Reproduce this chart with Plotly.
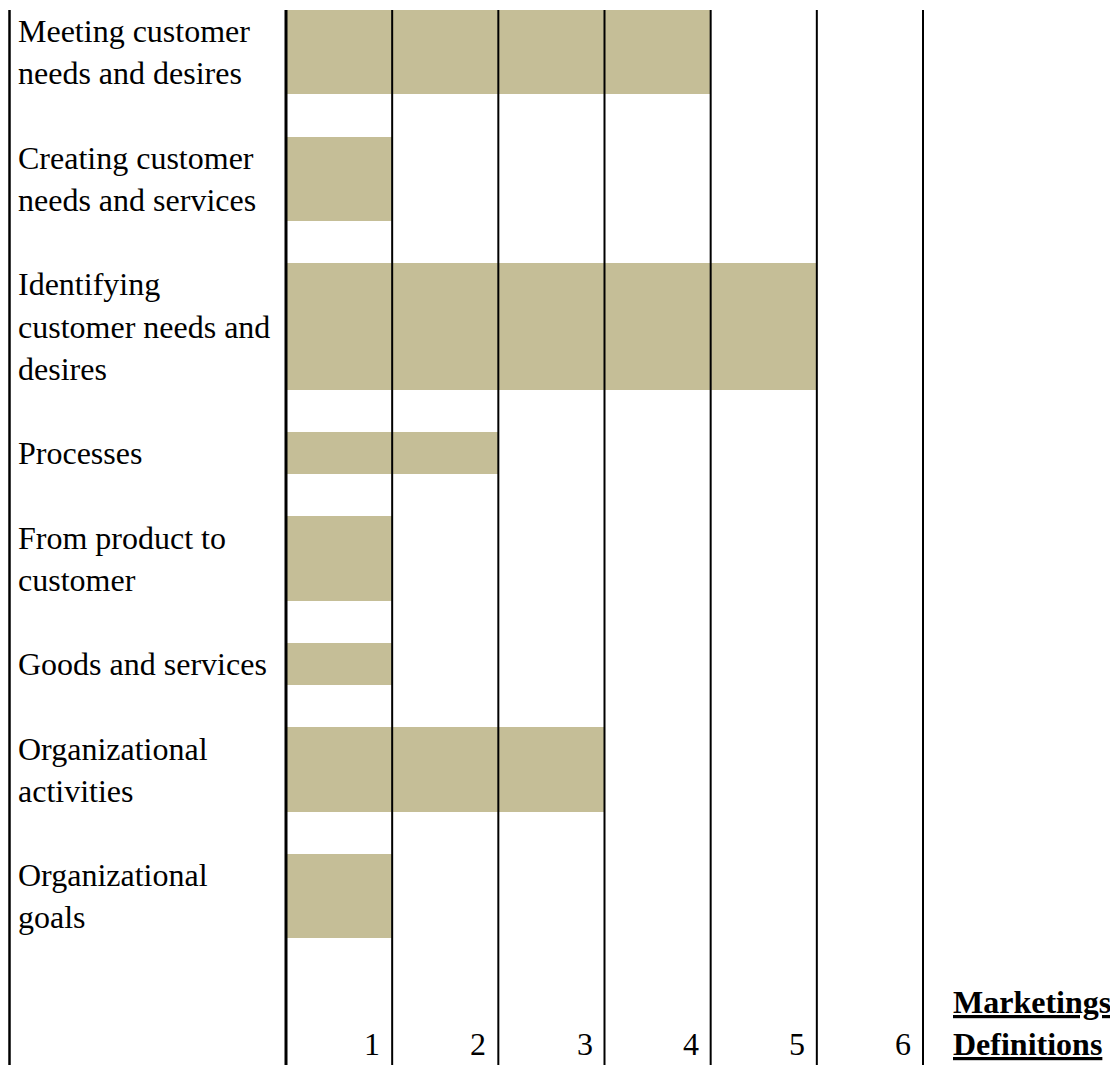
import plotly.graph_objects as go

# Marketing definitions and how many times each one was mentioned
definitions = [
    "Meeting customer<br>needs and desires",
    "Creating customer<br>needs and services",
    "Identifying<br>customer needs and<br>desires",
    "Processes",
    "From product to<br>customer",
    "Goods and services",
    "Organizational<br>activities",
    "Organizational<br>goals",
]
counts = [4, 1, 5, 2, 1, 1, 3, 1]
tick_values = [1, 2, 3, 4, 5, 6]
tick_labels = ["1", "2", "3", "4", "5", "6"]
title_lines = ["Marketings", "Definitions"]

W, H = 1110, 1065
TOP = 10
X0_PX, X6_PX = 286, 923          # pixel positions of 0 and 6 on the count scale
LABEL_PX = 16                     # left edge of the row labels
BORDER_PX = 9.5                   # left border rule
TITLE_PX = 951

FONT = "Liberation Serif, Times New Roman, serif"
FS = 32
BAR = "#C5BE97"

# each row takes one unit per text line, with one blank unit after it;
# a final two-line row holds the scale numbers and the title
rows = [d.split("<br>") for d in definitions]
tops, centers, heights = [], [], []
pos = 0
for lines in rows:
    tops.append(pos)
    heights.append(len(lines))
    centers.append(pos + len(lines) / 2)
    pos += len(lines) + 1
footer_top = pos
total_units = footer_top + len(title_lines)

px_per_unit = (X6_PX - X0_PX) / 6
x_range = [-X0_PX / px_per_unit, (W - X0_PX) / px_per_unit]

fig = go.Figure(
    go.Bar(
        x=counts,
        y=centers,
        width=heights,
        orientation="h",
        marker=dict(color=BAR, line=dict(width=0)),
        hoverinfo="skip",
    )
)

annotations = []
for top, lines in zip(tops, rows):
    for j, line in enumerate(lines):
        annotations.append(dict(
            x=LABEL_PX / W, xref="paper", y=top + j + 0.5, yref="y",
            text=line, showarrow=False, xanchor="left", yanchor="middle",
            font=dict(family=FONT, size=FS, color="black"),
        ))

# scale numbers, right-aligned inside each column on the footer's last line
for v, t in zip(tick_values, tick_labels):
    annotations.append(dict(
        x=v, xref="x", y=footer_top + len(title_lines) - 0.5, yref="y",
        text=t, showarrow=False, xanchor="right", yanchor="middle", xshift=-10,
        font=dict(family=FONT, size=FS, color="black"),
    ))

for j, line in enumerate(title_lines):
    annotations.append(dict(
        x=TITLE_PX / W, xref="paper", y=footer_top + j + 0.5, yref="y",
        text=f"<b><u>{line}</u></b>", showarrow=False, xanchor="left", yanchor="middle",
        font=dict(family=FONT, size=FS, color="black"),
    ))

# vertical rules drawn over the bars
shapes = [dict(type="line", xref="paper", yref="paper",
               x0=BORDER_PX / W, x1=BORDER_PX / W, y0=0, y1=1,
               line=dict(color="black", width=2.5), layer="above")]
for v in [0] + tick_values:
    shapes.append(dict(type="line", xref="x", yref="paper",
                       x0=v, x1=v, y0=0, y1=1,
                       line=dict(color="black", width=3 if v == 0 else 2),
                       layer="above"))

fig.update_layout(
    width=W, height=H,
    margin=dict(l=0, r=0, t=TOP, b=0),
    paper_bgcolor="white", plot_bgcolor="white",
    showlegend=False,
    bargap=0,
    annotations=annotations,
    shapes=shapes,
    xaxis=dict(range=x_range, visible=False, fixedrange=True),
    yaxis=dict(range=[total_units, 0], visible=False, fixedrange=True),
)

fig.write_html("out.html", config={"displayModeBar": False})
